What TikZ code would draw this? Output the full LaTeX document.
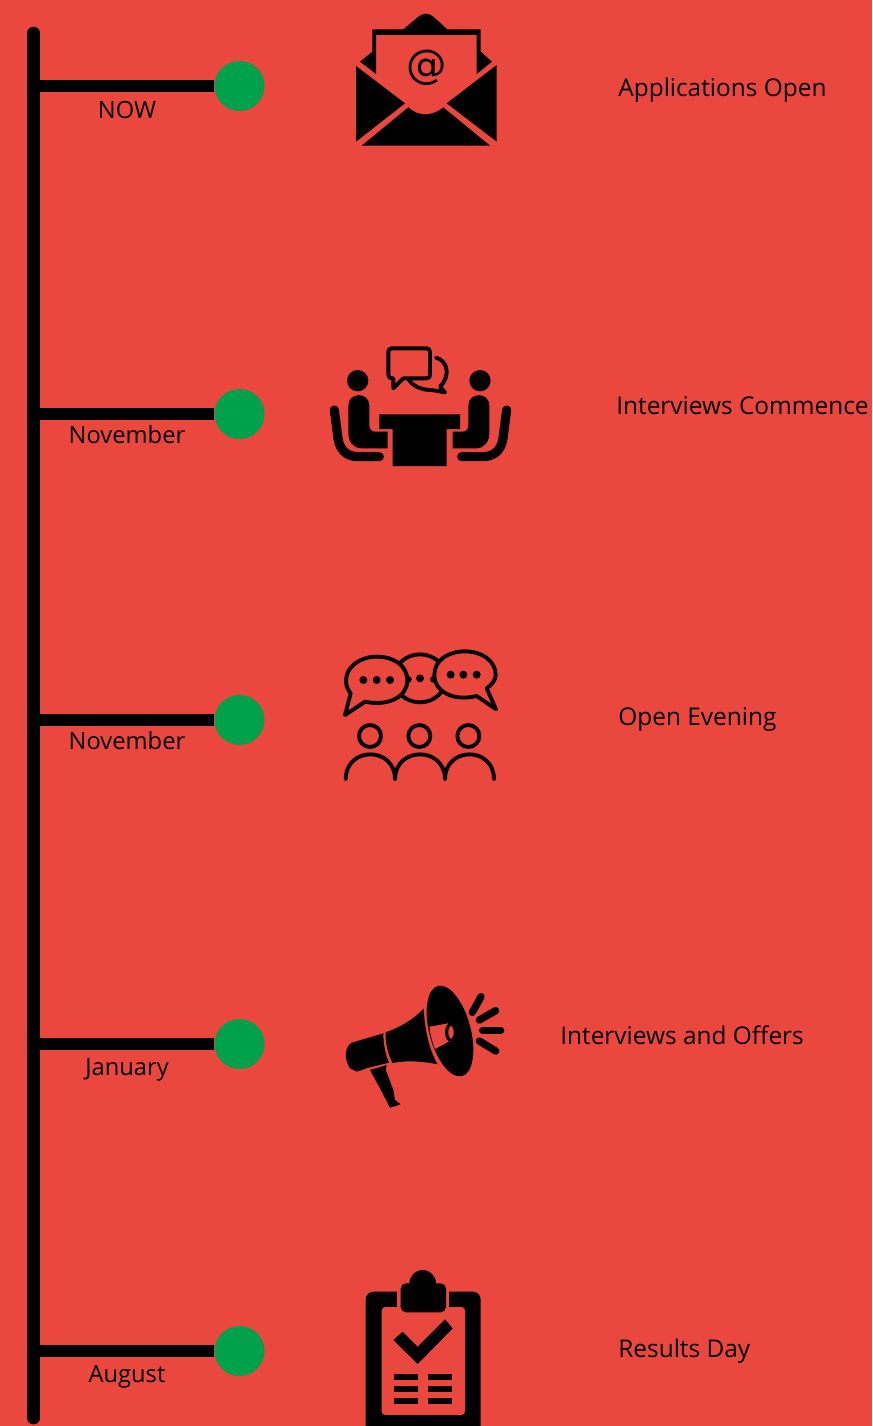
\documentclass[tikz,border=0pt]{standalone}
\usepackage{fontspec}
\setmainfont{Open Sans}
\newfontfamily\atfont{DejaVu Sans}
\usetikzlibrary{positioning}
\definecolor{bgred}{HTML}{EA483F}
\definecolor{dotgreen}{HTML}{00A14B}
\tikzset{
  spineline/.style={line width=7.2pt,line cap=round},
  branchline/.style={line width=6.8pt},
  greendot/.style={circle,fill=dotgreen,inner sep=0pt,minimum size=1cm},
  datetext/.style={font=\fontsize{13.5}{16}\selectfont,text=black,inner sep=0pt},
  eventtext/.style={font=\fontsize{13.9}{16}\selectfont,text=black,inner sep=0pt,anchor=west},
  iconline/.style={draw=black,line width=2.2pt,line join=round,line cap=round},
}
\begin{document}
\begin{tikzpicture}[x=0.02cm,y=-0.02cm]
\fill[bgred] (0,0) rectangle (872,1426);
\useasboundingbox (0,0) rectangle (872,1426);

\coordinate (top) at (33.5,33);
\coordinate (bottom) at (33.5,1418);
\draw[spineline] (top) -- (bottom);

\coordinate (s1) at (33.5,86);
\coordinate (s2) at (33.5,414);
\coordinate (s3) at (33.5,720);
\coordinate (s4) at (33.5,1044);
\coordinate (s5) at (33.5,1351);
\node[greendot] (d1) at (239.5,86) {};
\node[greendot] (d2) at (239.5,414) {};
\node[greendot] (d3) at (239.5,720) {};
\node[greendot] (d4) at (239.5,1044) {};
\node[greendot] (d5) at (239.5,1351) {};
\draw[branchline] (s1) -- (d1);
\draw[branchline] (s2) -- (d2);
\draw[branchline] (s3) -- (d3);
\draw[branchline] (s4) -- (d4);
\draw[branchline] (s5) -- (d5);

\node[datetext] (now) at (127,110) {NOW};
\node[datetext] (nov1) at (127,435) {November};
\node[datetext] (nov2) at (127,741) {November};
\node[datetext] (jan) at (127,1070) {January};
\node[datetext] (aug) at (127,1377) {August};

\node[eventtext] (open) at (618,90) {Applications Open};
\node[eventtext] (intc) at (616,406) {Interviews Commence};
\node[eventtext] (even) at (618,719) {Open Evening};
\node[eventtext] (offr) at (560,1035) {Interviews and Offers};
\node[eventtext] (resu) at (618,1351) {Results Day};

% envelope
\begin{scope}[shift={(340,0)},scale=1/3]
\fill (60,185) -- (97,155) -- (97,88) -- (190,88) -- (235,50) .. controls (250,38) and (265,38) .. (280,50) -- (322,88) -- (422,88) -- (422,155) -- (456,185) -- (410,222) -- (410,105) -- (108,105) -- (108,222) -- cycle;
\fill (48,198) -- (195,310) -- (48,425) -- cycle;
\fill (470,195) -- (320,310) -- (470,425) -- cycle;
\fill (65,437) -- (205,322) .. controls (235,350) and (275,350) .. (310,322) -- (450,437) -- cycle;
\node[font=\fontsize{23}{23}\selectfont\atfont,inner sep=0pt] (atsign) at (259,203) {@};
\end{scope}

% interview
\begin{scope}[shift={(320,335)},scale=1/3]
\fill (113,137) circle[radius=32];
\fill (480,137) circle[radius=32];
\fill (85,212) .. controls (85,170) and (148,170) .. (148,212) -- (148,270) .. controls (148,283) and (155,290) .. (165,290) -- (203,290) -- (203,340) -- (125,340) .. controls (100,340) and (85,320) .. (85,295) -- cycle;
\fill (508,212) .. controls (508,170) and (445,170) .. (445,212) -- (445,270) .. controls (445,283) and (438,290) .. (428,290) -- (398,290) -- (398,340) -- (468,340) .. controls (493,340) and (508,320) .. (508,295) -- cycle;
\draw[line width=5.2pt,line cap=round] (43,225) -- (54,310) .. controls (60,350) and (85,365) .. (115,365) -- (178,365);
\draw[line width=5.2pt,line cap=round] (560,225) -- (549,310) .. controls (543,350) and (518,365) .. (488,365) -- (425,365);
\fill (178,238) -- (420,238) -- (420,282) -- (380,282) -- (380,393) -- (218,393) -- (218,282) -- (178,282) -- cycle;
\draw[iconline] (250,130) -- (320,130) .. controls (326,130) and (330,126) .. (330,120) -- (330,50) .. controls (330,44) and (326,40) .. (320,40) -- (215,40) .. controls (209,40) and (205,44) .. (205,50) -- (205,120) .. controls (205,126) and (209,130) .. (220,130) -- (220,160) -- (250,130);
\draw[iconline] (348,68) .. controls (380,75) and (395,120) .. (360,155) -- (375,172) -- (335,165) .. controls (305,165) and (280,155) .. (265,132);
\end{scope}

% open evening
\begin{scope}[shift={(330,640)},scale=1/3]
\draw[iconline] (270,115) ellipse[x radius=78,y radius=72];
\fill (270,115) circle[radius=12];
\fill (235,118) circle[radius=10];
\fill (310,118) circle[radius=10];
\draw[iconline,fill=bgred] (62,160) -- (45,225) -- (105,185) .. controls (175,200) and (232,170) .. (232,122) .. controls (232,75) and (190,50) .. (140,50) .. controls (90,50) and (48,80) .. (48,122) .. controls (48,135) and (52,148) .. (62,160) -- cycle;
\draw[iconline,fill=bgred] (470,145) -- (498,208) -- (440,168) .. controls (370,185) and (313,155) .. (313,105) .. controls (313,60) and (355,34) .. (405,34) .. controls (455,34) and (497,62) .. (497,105) .. controls (497,120) and (485,135) .. (470,145) -- cycle;
\fill (100,120) circle[radius=12];
\fill (140,120) circle[radius=12];
\fill (180,120) circle[radius=12];
\fill (362,104) circle[radius=12];
\fill (400,104) circle[radius=12];
\fill (440,104) circle[radius=12];
\draw[iconline] (120,288) circle[radius=33];
\draw[iconline] (268,288) circle[radius=33];
\draw[iconline] (415,288) circle[radius=33];
\draw[iconline] (47,418) .. controls (47,318) and (195,318) .. (195,418);
\draw[iconline] (195,418) .. controls (195,318) and (345,318) .. (345,418);
\draw[iconline] (345,418) .. controls (345,318) and (492,318) .. (492,418);
\end{scope}

% megaphone
\begin{scope}[shift={(335,975)},scale=1/3]
\fill (345,168) ellipse[x radius=62,y radius=140,rotate=15];
\fill[bgred] (262,92) .. controls (266,170) and (285,235) .. (318,280) -- (300,285) -- (250,100) -- cycle;
\fill (152,172) .. controls (200,155) and (240,130) .. (266,100) .. controls (270,170) and (283,225) .. (308,268) .. controls (260,258) and (210,256) .. (172,264) .. controls (158,235) and (150,200) .. cycle;
\fill (145,175) -- (50,203) .. controls (30,215) and (25,250) .. (45,280) -- (65,290) -- (100,278) -- (162,263) .. controls (150,235) and (145,205) .. cycle;
\fill (105,285) -- (155,270) .. controls (150,285) and (155,295) .. (160,305) -- (175,345) -- (180,375) -- (197,388) -- (165,398) -- (135,340) -- cycle;
\fill[bgred] (283,155) -- (340,145) -- (350,195) -- (300,222) .. controls (292,200) and (286,180) .. cycle;
\draw[draw=black,fill=bgred,line width=1.8pt] (348,172) ellipse[x radius=13,y radius=24];
\draw[line width=4.2pt,line cap=round] (438,65) -- (412,112);
\draw[line width=4.2pt,line cap=round] (482,107) -- (433,135);
\draw[line width=4.2pt,line cap=round] (497,166) -- (443,166);
\draw[line width=4.2pt,line cap=round] (482,228) -- (433,198);
\end{scope}

% clipboard
\begin{scope}[shift={(350,1260)},scale=1/3]
\fill[rounded corners=4.5pt] (47,95) rectangle (392,530);
\fill[bgred] (140,85) rectangle (298,142);
\fill[bgred,rounded corners=2pt] (95,141) rectangle (345,465);
\fill[rounded corners=3pt] (152,70) rectangle (288,157);
\fill (218,70) circle[radius=40];
\fill (130,240) -- (158,215) -- (203,260) -- (285,178) -- (308,205) -- (203,312) -- cycle;
\fill (133,342) rectangle (205,360);
\fill (235,342) rectangle (305,360);
\fill (133,378) rectangle (205,396);
\fill (235,378) rectangle (305,396);
\fill (133,414) rectangle (205,432);
\fill (235,414) rectangle (305,432);
\end{scope}
\end{tikzpicture}
\end{document}
